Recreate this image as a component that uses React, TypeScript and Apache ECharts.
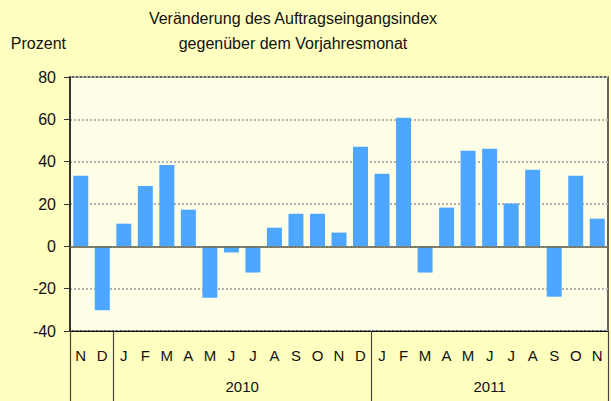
import React, { useEffect, useRef } from "react";
import * as echarts from "echarts";

const months = ["N", "D", "J", "F", "M", "A", "M", "J", "J", "A", "S", "O", "N", "D", "J", "F", "M", "A", "M", "J", "J", "A", "S", "O", "N"];
const values = [33.3, -30.2, 10.7, 28.5, 38.4, 17.3, -24.3, -2.9, -12.4, 8.8, 15.4, 15.4, 6.5, 47.1, 34.3, 60.8, -12.4, 18.3, 45.2, 46.1, 20.2, 36.2, -23.8, 33.4, 13.1];
const yearBoundaries = [0, 2, 14, 25];
const yearLabelPositions = [8, 19.5];
const yearLabels = ["2010", "2011"];
const titleLines = ["Veränderung des Auftragseingangsindex", "gegenüber dem Vorjahresmonat"];
const yTicks = { min: -40, max: 80, interval: 20 };

const FONT = "'Liberation Sans', Arial, sans-serif";
const GRID = { left: 70, right: 3, top: 77, bottom: 70 };
const W = 611;
const H = 401;

export default function App() {
  const ref = useRef<HTMLDivElement>(null);
  useEffect(() => {
    if (!ref.current) return;
    const chart = echarts.init(ref.current, null, { renderer: "svg" });
    chart.setOption({
      animation: false,
      backgroundColor: "#FFFFC0",
      textStyle: { fontFamily: FONT },
      graphic: [
        {
          type: "rect",
          z: -10,
          zlevel: 0,
          silent: true,
          shape: { x: GRID.left, y: GRID.top, width: W - GRID.left - GRID.right, height: H - GRID.top - GRID.bottom },
          style: { fill: "#FFFFE8" },
        },
        {
          type: "text",
          x: 293,
          y: 18,
          style: { text: titleLines[0], fontFamily: FONT, fontSize: 16, fill: "#111", align: "center", verticalAlign: "middle" },
        },
        {
          type: "text",
          x: 293,
          y: 43,
          style: { text: titleLines[1], fontFamily: FONT, fontSize: 16, fill: "#111", align: "center", verticalAlign: "middle" },
        },
      ],
      grid: {
        ...GRID,
        show: true,
        backgroundColor: "#FFFFE8",
        borderColor: "#333",
        borderWidth: 1.5,
        containLabel: false,
      },
      xAxis: [
        {
          type: "category",
          data: months,
          position: "bottom",
          axisLine: { onZero: false, lineStyle: { color: "#111", width: 1 } },
          axisTick: { show: false },
          axisLabel: { color: "#111", fontSize: 15, margin: 17, fontFamily: FONT, interval: 0 },
          splitLine: { show: false },
        },
        {
          type: "value",
          min: 0,
          max: 25,
          position: "bottom",
          axisLine: { show: false, onZero: false },
          axisTick: { show: true, customValues: yearBoundaries, length: 72, lineStyle: { color: "#444", width: 1.2 } },
          axisLabel: {
            show: true,
            customValues: yearLabelPositions,
            margin: 48,
            fontSize: 15,
            color: "#111",
            fontFamily: FONT,
            formatter: (v: number) => yearLabels[yearLabelPositions.indexOf(v)] ?? "",
          },
          splitLine: { show: false },
        },
      ],
      yAxis: {
        type: "value",
        min: yTicks.min,
        max: yTicks.max,
        interval: yTicks.interval,
        name: "Prozent",
        nameLocation: "end",
        nameGap: 34,
        nameTextStyle: { color: "#111", fontSize: 16, fontFamily: FONT, align: "right", verticalAlign: "middle", padding: [0, 4, 0, 0] },
        axisLine: { show: true, onZero: false, lineStyle: { color: "#333", width: 2 } },
        axisTick: { show: true, length: 6, lineStyle: { color: "#333" } },
        axisLabel: { color: "#111", fontSize: 16, margin: 14, fontFamily: FONT },
        splitLine: { show: true, lineStyle: { color: "#b0b0b0", type: "dotted", width: 2 } },
      },
      series: [
        {
          type: "bar",
          data: values,
          barWidth: 15,
          itemStyle: { color: "#4DA6FF" },
          xAxisIndex: 0,
          markLine: {
            silent: true,
            symbol: "none",
            label: { show: false },
            lineStyle: { color: "#6f6f5a", width: 2, type: "solid", opacity: 0.85 },
            data: [{ yAxis: 0 }],
          },
        },
      ],
    });
    return () => chart.dispose();
  }, []);
  return <div ref={ref} style={{ width: W, height: H, position: "absolute", left: 0, top: 0 }} />;
}
